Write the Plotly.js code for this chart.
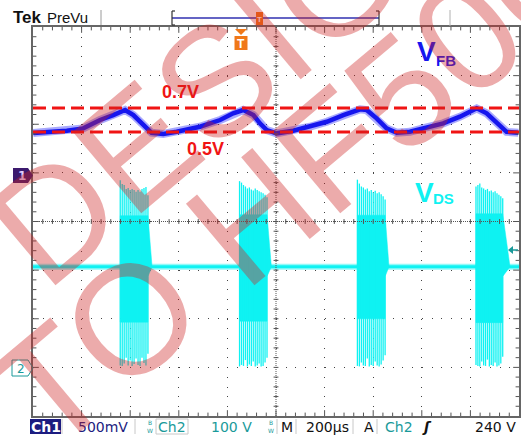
<!DOCTYPE html>
<html><head><meta charset="utf-8">
<script src="https://cdn.plot.ly/plotly-3.0.1.min.js"></script>
<style>html,body{margin:0;padding:0;background:#fff;}#chart{width:521px;height:435px;}</style>
</head><body><div id="chart"></div>
<script>
// ---------------- DATA ----------------
// Ch1 (V_FB), 500 mV/div, time in microseconds (200 us/div)
const vfbTime  = [1,139,207,276,330,379,413,454,488,536,591,687,770,824,865,907,934,962,1003,1071,1140,1209,1277,1346,1373,1414,1455,1497,1551,1620,1688,1757,1826,1867,1908,1949,1997];
const vfbVolts = [0.432,0.456,0.480,0.566,0.617,0.669,0.617,0.514,0.435,0.422,0.445,0.497,0.566,0.635,0.669,0.617,0.532,0.463,0.429,0.456,0.497,0.548,0.617,0.676,0.669,0.583,0.480,0.435,0.445,0.491,0.532,0.600,0.686,0.635,0.532,0.445,0.435];
const thresholdLevels = [0.689, 0.442];
const thresholdLabels = ["0.7V", "0.5V"];

// Ch2 (V_DS), 100 V/div
const vdsBaselineTime  = [0, 2000];
const vdsBaselineVolts = [207, 207];
const burstStart   = [359, 850, 1335, 1823];
const burstEnd     = [473, 963, 1449, 1933];
const burstTailEnd = [490, 981, 1465, 1963];
const burstBandTop    = [312, 314, 313, 316];
const burstBandBottom = [93, 95, 100, 92];
const burst1Tops    = [385,377,375,367,369,365,367,365,361,365,361,367,369,371,354];
const burst1Bottoms = [4,3,8,20,4,14,3,7,18,5,3,20,9,4,28];
const burst2Tops    = [383,380,375,372,368,370,366,364,368,365,362,360,358,355,350];
const burst2Bottoms = [2,5,3,15,2,6,3,12,2,4,8,2,3,10,20];
const burst3Tops    = [386,378,372,370,366,368,362,365,360,363,358,360,356,352,345];
const burst3Bottoms = [3,2,10,4,3,18,2,5,3,12,4,2,6,14,25];
const burst4Tops    = [372,375,378,370,368,365,367,362,364,360,362,358,355,352,348];
const burst4Bottoms = [5,3,2,12,4,3,16,2,5,3,10,2,4,8,22];
const triggerLevel = 240;

// ---------------- BUILD ----------------
const L=33, T=27, PW=486, PH=389;
const px = X => (X-L)/PW;
const py = Y => (T+PH-Y)/PH;
const CYAN='#0ff2f2', BLUE='#1616ee', RED='#f01414', TEAL='#1a9a9a', NAVY='#1c1c80';

const traces = [];
traces.push({x:vdsBaselineTime, y:vdsBaselineVolts, yaxis:'y3', mode:'lines', line:{color:'rgba(15,242,242,0.45)',width:6}, hoverinfo:'skip'});
traces.push({x:vdsBaselineTime, y:vdsBaselineVolts, yaxis:'y3', mode:'lines', line:{color:CYAN,width:3}, hoverinfo:'skip'});
const tops=[burst1Tops,burst2Tops,burst3Tops,burst4Tops];
const bots=[burst1Bottoms,burst2Bottoms,burst3Bottoms,burst4Bottoms];
for(let b=0;b<burstStart.length;b++){
  const s=burstStart[b], e=burstEnd[b], te=burstTailEnd[b];
  traces.push({x:[s,e,te,e,e,s,s], y:[burstBandTop[b],burstBandTop[b],vdsBaselineVolts[0],vdsBaselineVolts[0]-20,burstBandBottom[b],burstBandBottom[b],burstBandTop[b]],
    yaxis:'y3', mode:'lines', fill:'toself', fillcolor:CYAN, line:{color:CYAN,width:0.5}, hoverinfo:'skip'});
  const xs=[], ys=[]; const n=tops[b].length;
  for(let i=0;i<n;i++){const t=s+(e-s)*i/(n-1); xs.push(t,t,null); ys.push(bots[b][i],tops[b][i],null);}
  traces.push({x:xs,y:ys,yaxis:'y3',mode:'lines',line:{color:CYAN,width:1.3},hoverinfo:'skip'});
}
traces.push({x:vfbTime, y:vfbVolts, yaxis:'y2', mode:'lines', line:{color:'rgba(40,40,250,0.4)',width:8}, hoverinfo:'skip'});
traces.push({x:vfbTime, y:vfbVolts, yaxis:'y2', mode:'lines', line:{color:BLUE,width:4.5}, hoverinfo:'skip'});
thresholdLevels.forEach(v=>traces.push({x:[0,2000], y:[v,v], yaxis:'y2', mode:'lines', line:{color:RED,width:3,dash:'13px,6px'}, hoverinfo:'skip'}));

const shapes=[];
const G='#555';
function seg(x0,y0,x1,y1){shapes.push({type:'line',xref:'x',yref:'y',x0,y0,x1,y1,line:{color:G,width:1}});}
for(let i=1;i<50;i++){const t=i*40; const L2=(i%5===0)?0.12:0.07;
  seg(t,-4,t,-4+L2); seg(t,4,t,4-L2); seg(t,-0.05,t,0.05);}
for(let i=1;i<40;i++){const d=-4+i*0.2; const L2=(i%5===0)?24:14;
  seg(0,d,L2,d); seg(2000,d,2000-L2,d); seg(990,d,1010,d);}
shapes.push({type:'line',xref:'x',yref:'y',x0:0,x1:2000,y0:0,y1:0,line:{color:G,width:1,dash:'1px,1px'}});
shapes.push({type:'line',xref:'x',yref:'y',x0:1000,x1:1000,y0:-4,y1:4,line:{color:G,width:1,dash:'1px,1px'}});

function pl(X0,Y0,X1,Y1,c,w){shapes.push({type:'line',xref:'paper',yref:'paper',x0:px(X0),y0:py(Y0),x1:px(X1),y1:py(Y1),line:{color:c,width:w}});}
function rect(X0,Y0,X1,Y1,fill,lc,lw){shapes.push({type:'rect',xref:'paper',yref:'paper',x0:px(X0),y0:py(Y0),x1:px(X1),y1:py(Y1),fillcolor:fill||'rgba(0,0,0,0)',line:{color:lc||'rgba(0,0,0,0)',width:lw||0}});}
function path(pts,fill,lc,lw){let d=pts.map((p,i)=>(i?'L':'M')+px(p[0])+','+py(p[1])).join(' ')+' Z';shapes.push({type:'path',xref:'paper',yref:'paper',path:d,fillcolor:fill||'rgba(0,0,0,0)',line:{color:lc||'rgba(0,0,0,0)',width:lw||0}});}
pl(101,10,101,25,'#9a9a9a',1);
pl(172,18,379,18,'#3030b0',1.5);
pl(172,11,172,25,'#333',1.2); pl(172,11,175,11,'#333',1.2); pl(172,25,175,25,'#333',1.2);
pl(379,11,379,25,'#333',1.2); pl(376,11,379,11,'#333',1.2); pl(376,25,379,25,'#333',1.2);
pl(450,10,450,26,'#b0b0b0',1);
rect(256,12,263,25,'#f07818');
path([[235,29],[247,29],[241,35]],'#f07818');
rect(234.5,36,247.5,50,'#f07818');
path([[13,168],[28,168],[33,175.5],[28,183],[13,183]],'#3c1a6e');
path([[12,360],[28,360],[33,368],[28,376],[12,376]],'rgba(0,0,0,0)',TEAL,1);
path([[508,250],[513,246],[513,254]],TEAL); pl(512,250,518,250,TEAL,1.5);
rect(30,419,61,434,NAVY);
pl(62,419,62,434,'#c8c8c8',1); pl(135,419,135,434,'#c8c8c8',1);
rect(156,419,188,434,null,'#c8c8c8',1);
pl(277,419,277,434,'#c8c8c8',1); pl(296,419,296,434,'#c8c8c8',1); pl(353,419,353,434,'#c8c8c8',1); pl(377,419,377,434,'#c8c8c8',1);

const anns=[];
function txt(X,Y,text,size,color,opts){anns.push(Object.assign({xref:'paper',yref:'paper',x:px(X),y:py(Y),text,showarrow:false,xanchor:'left',yanchor:'middle',font:{family:'Liberation Sans, Arial',size,color}},opts||{}));}
txt(11,17.5,'<b>Tek</b>',17,'#111');
txt(45,17.5,'PreVu',15,'#111');
txt(259.5,19,'<b>T</b>',8,'#fff',{xanchor:'center'});
txt(241,43.5,'<b>T</b>',12,'#fff',{xanchor:'center'});
const SF='DejaVu Sans';
txt(22,176,'<b>1</b>',12,'#e0d0ff',{xanchor:'center',font:{family:SF,size:12,color:'#e0d0ff'}});
txt(21,368.5,'2',12,TEAL,{xanchor:'center',font:{family:SF,size:12,color:TEAL}});
txt(180,91.5,'<b>'+thresholdLabels[0]+'</b>',18,RED,{xanchor:'center'});
txt(205,148.5,'<b>'+thresholdLabels[1]+'</b>',18,RED,{xanchor:'center'});
txt(415,52,'<b>V</b>',28,BLUE);
txt(434,60.5,'<b>FB</b>',15,BLUE);
txt(413,192,'<b>V</b>',28,CYAN);
txt(431,198.5,'<b>DS</b>',15,CYAN);
txt(45.5,427,'<b>Ch1</b>',14,'#fff',{xanchor:'center',font:{family:SF,size:14,color:'#fff'}});
txt(76,427,'500mV',14,NAVY,{font:{family:SF,size:14,color:NAVY}});
txt(149.5,426,'B<br>W',6,TEAL,{xanchor:'center',font:{family:SF,size:6,color:TEAL}});
txt(172,427,'Ch2',14,TEAL,{xanchor:'center',font:{family:SF,size:14,color:TEAL}});
txt(209,427,'100 V',14,TEAL,{font:{family:SF,size:14,color:TEAL}});
txt(270.5,426,'B<br>W',6,TEAL,{xanchor:'center',font:{family:SF,size:6,color:TEAL}});
txt(286.5,427,'M',14,'#111',{xanchor:'center',font:{family:SF,size:14,color:'#111'}});
txt(304,427,'200µs',14,'#111',{font:{family:SF,size:14,color:'#111'}});
txt(369,427,'A',14,'#111',{xanchor:'center',font:{family:SF,size:14,color:'#111'}});
txt(383,427,'Ch2',14,TEAL,{font:{family:SF,size:14,color:TEAL}});
txt(427,427,'<i><b>ʃ</b></i>',14,'#111',{xanchor:'center',font:{family:SF,size:14,color:'#111'}});
txt(518,427,triggerLevel+' V',14,'#111',{xanchor:'right',font:{family:SF,size:14,color:'#111'}});
const WM='rgba(205,35,35,0.38)';
anns.push({xref:'paper',yref:'paper',x:px(290),y:py(185),text:'TO HF500',showarrow:false,textangle:-40,xanchor:'center',yanchor:'middle',font:{family:'Liberation Sans, Arial',size:155,color:WM}});
anns.push({xref:'paper',yref:'paper',x:px(295),y:py(15),text:'DESIGNS,',showarrow:false,textangle:-40,xanchor:'center',yanchor:'middle',font:{family:'Liberation Sans, Arial',size:155,color:WM}});

const layout={
  width:521,height:435,margin:{l:L,r:2,t:T,b:19},
  paper_bgcolor:'#fff',plot_bgcolor:'#fff',showlegend:false,
  xaxis:{range:[0,2000],showgrid:true,gridcolor:'#444',gridwidth:1,griddash:'1px,8.72px',dtick:200,tick0:0,
         showticklabels:false,ticks:'',zeroline:false,showline:true,linecolor:'#666',linewidth:2,mirror:true,fixedrange:true},
  yaxis:{range:[-4,4],showgrid:true,gridcolor:'#444',gridwidth:1,griddash:'1px,8.72px',dtick:1,tick0:0,
         showticklabels:false,ticks:'',zeroline:false,showline:true,linecolor:'#666',linewidth:2,mirror:true,fixedrange:true},
  yaxis2:{range:[-2.4775,1.5225],overlaying:'y',visible:false,fixedrange:true},
  yaxis3:{range:[-100,700],overlaying:'y',visible:false,fixedrange:true},
  shapes,annotations:anns
};
Plotly.newPlot('chart',traces,layout,{staticPlot:true,displayModeBar:false});
</script></body></html>
